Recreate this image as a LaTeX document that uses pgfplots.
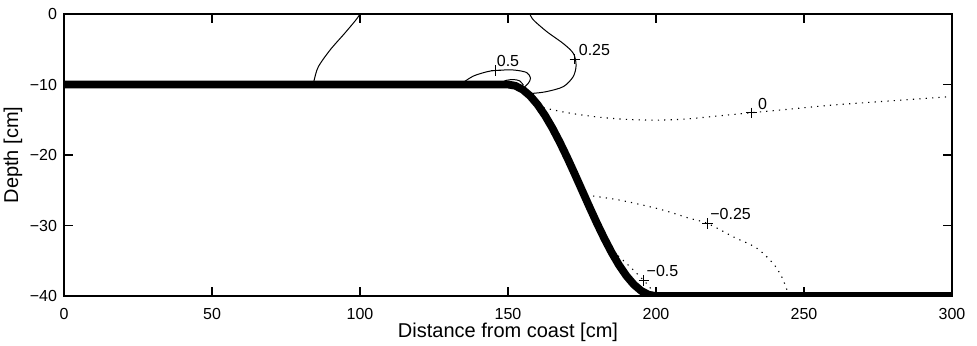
\documentclass[border=0pt]{standalone}
\usepackage{fontspec}
\setmainfont{Liberation Sans}
\usepackage{pgfplots}
\pgfplotsset{compat=1.18}
\begin{document}
\begin{tikzpicture}
\useasboundingbox (-32pt,-24.5pt) rectangle (456.5pt,148pt);
\begin{axis}[
  at={(0,0)}, anchor=south west,
  scale only axis, width=444pt, height=141pt,
  xmin=0, xmax=300, ymin=-40, ymax=0,
  xtick={0,50,100,150,200,250,300},
  xticklabels={0,50,100,150,200,250,300},
  ytick={-40,-30,-20,-10,0},
  yticklabels={−40,−30,−20,−10,0},
  tick align=inside, major tick length=4.4pt,
  xtick pos=both, ytick pos=both,
  axis line style={line width=0.7pt},
  every tick/.style={line width=0.6pt, black},
  tick label style={font=\fontsize{8}{10}\selectfont},
  xticklabel style={yshift=-2.8pt},
  label style={font=\fontsize{8}{10}\selectfont},
  xlabel={Distance from coast [cm]},
  ylabel={Depth [cm]},
  every axis x label/.style={at={(axis description cs:0.5,-0.1277)},anchor=center},
  every axis y label/.style={at={(axis description cs:-0.0575,0.5)},rotate=90,anchor=center},
]
% bathymetry
\addplot[black, line width=3.9pt, line join=round] coordinates {
(0,-10) (150,-10) (152.5,-10.18) (155,-10.73) (157.5,-11.63) (160,-12.86)
(162.5,-14.39) (165,-16.18) (167.5,-18.19) (170,-20.36) (172.5,-22.65)
(175,-25) (177.5,-27.35) (180,-29.64) (182.5,-31.81) (185,-33.82)
(187.5,-35.61) (190,-37.14) (192.5,-38.37) (195,-39.27) (197.5,-39.82)
(200,-40) (300,-40)};
% solid contours
\addplot[black, line width=0.5pt, smooth] coordinates {
(100,0) (98.6,-0.85) (94.9,-2.7) (89.9,-5.1) (85.9,-7.5) (84.5,-9.4) (84.3,-9.8)};
\addplot[black, line width=0.5pt, smooth] coordinates {
(157.4,0) (158.6,-0.85) (163.1,-2.5) (168.7,-4.2) (172.1,-5.6) (173,-7.3)
(172,-8.9) (168.7,-10.3) (163.1,-11.0) (158.5,-11.25) (156.8,-11.2)};
\addplot[black, line width=0.5pt, smooth] coordinates {
(134.9,-9.7) (138.3,-8.8) (142.8,-8.2) (145.9,-8.0) (151.8,-7.94) (156.3,-8.3)
(157.6,-9.1) (156.9,-9.8) (155.7,-10.3)};
\addplot[black, line width=0.5pt, smooth] coordinates {
(147.5,-9.8) (149.5,-9.4) (152,-9.3) (154,-9.5) (155.2,-10.1)};
% dotted contours
\addplot[black, line width=0.55pt, dash pattern=on 0.6pt off 2.6pt, smooth] coordinates {
(162,-13.3) (170,-14.0) (180,-14.6) (190,-14.95) (200,-15.05) (210,-14.9)
(220,-14.5) (232.3,-14.0) (245,-13.5) (260,-12.9) (280,-12.3) (300,-11.7)};
\addplot[black, line width=0.55pt, dash pattern=on 0.6pt off 2.6pt, smooth] coordinates {
(176.6,-25.7) (187.8,-26.4) (201.4,-27.7) (211.5,-29.0) (217.4,-29.7)
(226.1,-31.6) (234,-33.2) (239.6,-35.4) (242.5,-37.3) (244.3,-39.2)};
\addplot[black, line width=0.55pt, dash pattern=on 0.6pt off 2.6pt, smooth] coordinates {
(185.6,-33.7) (190.1,-35.4) (195.9,-37.8) (198.5,-39.1) (199.2,-39.6)};
% label marks
\addplot[only marks, mark=+, mark size=2.6pt, black, mark options={line width=0.5pt}] coordinates {
(172.6,-6.4) (145.9,-8.0) (232.3,-14.0) (217.4,-29.7) (195.9,-37.8)};
\begin{scope}[every node/.style={font=\fontsize{8}{10}\selectfont, inner sep=0pt}]
\node at (axis cs:179.2,-5.1) {0.25};
\node at (axis cs:150.0,-6.7) {0.5};
\node at (axis cs:236.0,-12.7) {0};
\node at (axis cs:225.2,-28.3) {−0.25};
\node at (axis cs:202.2,-36.5) {−0.5};
\end{scope}
\end{axis}
\end{tikzpicture}
\end{document}
